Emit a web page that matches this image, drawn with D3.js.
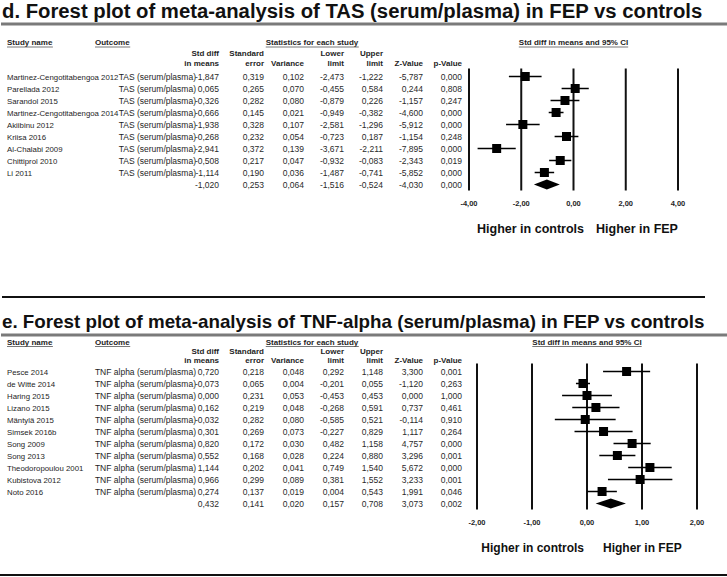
<!DOCTYPE html>
<html><head><meta charset="utf-8">
<script src="https://cdn.jsdelivr.net/npm/d3@7"></script>
<style>
html,body{margin:0;padding:0;background:#fff;}
svg{display:block;font-family:"Liberation Sans",Arial,sans-serif;}
</style></head>
<body>
<svg id="chart" width="727" height="577"></svg>
<script>
// ---------- DATA ----------
const dTitle = "d. Forest plot of meta-analysis of TAS (serum/plasma) in FEP vs controls";
const dOutcome = "TAS (serum/plasma)";
const dStudies = ["Martinez-Cengotitabengoa 2012","Parellada 2012","Sarandol 2015","Martinez-Cengotitabengoa 2014","Akiibinu 2012","Kriisa 2016","Al-Chalabi 2009","Chittiprol 2010","Li 2011"];
const dSmd   = [-1.847, 0.065,-0.326,-0.666,-1.938,-0.268,-2.941,-0.508,-1.114];
const dSe    = [ 0.319, 0.265, 0.282, 0.145, 0.328, 0.232, 0.372, 0.217, 0.190];
const dVar   = [ 0.102, 0.070, 0.080, 0.021, 0.107, 0.054, 0.139, 0.047, 0.036];
const dLower = [-2.473,-0.455,-0.879,-0.949,-2.581,-0.723,-3.671,-0.932,-1.487];
const dUpper = [-1.222, 0.584, 0.226,-0.382,-1.296, 0.187,-2.211,-0.083,-0.741];
const dZ     = [-5.787, 0.244,-1.157,-4.600,-5.912,-1.154,-7.895,-2.343,-5.852];
const dP     = [ 0.000, 0.808, 0.247, 0.000, 0.000, 0.248, 0.000, 0.019, 0.000];
const dSummary = [-1.020, 0.253, 0.064,-1.516,-0.524,-4.030, 0.000];
const dTicks = [-4,-2,0,2,4];

const eTitle = "e. Forest plot of meta-analysis of TNF-alpha (serum/plasma) in FEP vs controls";
const eOutcome = "TNF alpha (serum/plasma)";
const eStudies = ["Pesce 2014","de Witte 2014","Haring 2015","Lizano 2015","Mäntylä 2015","Simsek 2016b","Song 2009","Song 2013","Theodoropoulou 2001","Kubistova 2012","Noto 2016"];
const eSmd   = [0.720,-0.073, 0.000, 0.162,-0.032, 0.301, 0.820, 0.552, 1.144, 0.966, 0.274];
const eSe    = [0.218, 0.065, 0.231, 0.219, 0.282, 0.269, 0.172, 0.168, 0.202, 0.299, 0.137];
const eVar   = [0.048, 0.004, 0.053, 0.048, 0.080, 0.073, 0.030, 0.028, 0.041, 0.089, 0.019];
const eLower = [0.292,-0.201,-0.453,-0.268,-0.585,-0.227, 0.482, 0.224, 0.749, 0.381, 0.004];
const eUpper = [1.148, 0.055, 0.453, 0.591, 0.521, 0.829, 1.158, 0.880, 1.540, 1.552, 0.543];
const eZ     = [3.300,-1.120, 0.000, 0.737,-0.114, 1.117, 4.757, 3.296, 5.672, 3.233, 1.991];
const eP     = [0.001, 0.263, 1.000, 0.461, 0.910, 0.264, 0.000, 0.001, 0.000, 0.001, 0.046];
const eSummary = [0.432, 0.141, 0.020, 0.157, 0.708, 3.073, 0.002];
const eTicks = [-2,-1,0,1,2];

const colHeads1 = ["Std diff","Standard","","Lower","Upper","",""];
const colHeads2 = ["in means","error","Variance","limit","limit","Z-Value","p-Value"];
const leftLabel = "Higher in controls";
const rightLabel = "Higher in FEP";
const ciLabel = "Std diff in means and 95%  CI";

// ---------- HELPERS ----------
const loc = d3.formatLocale({decimal:",", thousands:".", grouping:[3], currency:["",""], minus:"-"});
const f3 = loc.format(".3f");
const f2 = loc.format(".2f");
const svg = d3.select("#chart");
const TXT = "#1e1e1e";
const colX = [219,264,304,344,383,423,462];

function fitText(sel, target){
  const w = sel.node().getComputedTextLength();
  const fs = parseFloat(sel.attr("font-size"));
  sel.attr("font-size", (fs*target/w).toFixed(2));
}
function underline(g, sel, y){
  const bb = sel.node().getBBox();
  g.append("line").attr("x1",bb.x).attr("x2",bb.x+bb.width)
   .attr("y1",y).attr("y2",y).attr("stroke","#555").attr("stroke-width",0.8);
}
function boldText(g,x,y,txt,anchor){
  return g.append("text").attr("x",x).attr("y",y).attr("text-anchor",anchor||"start")
    .attr("font-size",8).attr("font-weight","bold").attr("fill",TXT).text(txt);
}

function section(cfg){
  const g = svg.append("g");
  const L = cfg.lay;
  const t = g.append("text").attr("x",2).attr("y",L.title).attr("font-size",18)
    .attr("font-weight","bold").attr("fill","#111").text(cfg.title);
  fitText(t, cfg.titleWidth);
  g.append("line").attr("x1",1).attr("x2",727).attr("y1",L.rule).attr("y2",L.rule)
    .attr("stroke","#7a7a7a").attr("stroke-width",3);

  const xs = d3.scaleLinear().domain(cfg.domain).range(cfg.range);
  const hy = L.head;
  underline(g, boldText(g,7,hy,"Study name"), hy+2);
  underline(g, boldText(g,95,hy,"Outcome"), hy+2);
  underline(g, boldText(g,312,hy,"Statistics for each study","middle"), hy+2);
  underline(g, boldText(g,(cfg.range[0]+cfg.range[1])/2,hy,ciLabel,"middle"), hy+2);

  colHeads1.forEach((h,i)=>{ if(h) boldText(g,colX[i],L.sub1,h,"end"); });
  colHeads2.forEach((h,i)=>{ boldText(g,colX[i],L.sub2,h,"end"); });

  const n = cfg.studies.length;
  const ys = d3.scaleLinear().domain([0,1]).range([L.row0,L.row0+12]);

  const rows = cfg.studies.map((s,i)=>({name:s, vals:[cfg.smd[i],cfg.se[i],cfg.v[i],cfg.lo[i],cfg.up[i],cfg.z[i],cfg.p[i]], i}));
  rows.forEach(r=>{
    const y = ys(r.i)+3;
    g.append("text").attr("x",7).attr("y",y).attr("font-size",7.8).attr("fill",TXT).text(r.name);
    r.vals.forEach((v,j)=>{
      g.append("text").attr("x",colX[j]).attr("y",y).attr("text-anchor","end").attr("font-size",8.5).attr("fill","#2a2a2a").text(f3(v));
    });
    g.append("text").attr("x",196).attr("y",y).attr("text-anchor","end").attr("font-size",8.5).attr("fill",TXT).text(cfg.outcome);
  });
  const ySum = ys(n);
  cfg.summary.forEach((v,j)=>{
    g.append("text").attr("x",colX[j]).attr("y",ySum+3).attr("text-anchor","end").attr("font-size",8.5).attr("fill","#2a2a2a").text(f3(v));
  });

  cfg.ticks.forEach(tk=>{
    g.append("line").attr("x1",xs(tk)).attr("x2",xs(tk)).attr("y1",L.row0-8).attr("y2",ySum+6)
      .attr("stroke","#111").attr("stroke-width",2);
    g.append("text").attr("x",xs(tk)).attr("y",ySum+21.5).attr("text-anchor","middle")
      .attr("font-size",7.5).attr("font-weight","bold").attr("fill",TXT).text(f2(tk));
  });
  rows.forEach(r=>{
    const y = ys(r.i);
    g.append("line").attr("x1",xs(cfg.lo[r.i])).attr("x2",xs(cfg.up[r.i])).attr("y1",y).attr("y2",y)
      .attr("stroke","#000").attr("stroke-width",1.5);
    const sz = 9;
    g.append("rect").attr("x",xs(cfg.smd[r.i])-sz/2).attr("y",y-sz/2).attr("width",sz).attr("height",sz).attr("fill","#000");
  });
  const dm = cfg.summary;
  g.append("path").attr("d",`M${xs(dm[3])},${ySum} L${xs(dm[0])},${ySum-5} L${xs(dm[4])},${ySum} L${xs(dm[0])},${ySum+5} Z`).attr("fill","#000");

  const ly = ySum+48;
  g.append("text").attr("x",cfg.leftEnd).attr("y",ly).attr("text-anchor","end").attr("font-size",cfg.labFs).attr("font-weight","bold").attr("fill","#111").text(leftLabel);
  g.append("text").attr("x",cfg.rightStart).attr("y",ly).attr("font-size",cfg.labFs).attr("font-weight","bold").attr("fill","#111").text(rightLabel);
}

section({lay:{title:18, rule:24, head:45, sub1:56, sub2:66, row0:76.5},
  title:dTitle, titleWidth:701, outcome:dOutcome,
  studies:dStudies, smd:dSmd, se:dSe, v:dVar, lo:dLower, up:dUpper, z:dZ, p:dP, summary:dSummary,
  ticks:dTicks, domain:[-4,4], range:[469,678], leftEnd:584, rightStart:596, labFs:12.5});

svg.append("line").attr("x1",2).attr("x2",705).attr("y1",297).attr("y2",297).attr("stroke","#111").attr("stroke-width",2);

section({lay:{title:328, rule:335, head:344.5, sub1:354, sub2:363, row0:371.5},
  title:eTitle, titleWidth:703, outcome:eOutcome,
  studies:eStudies, smd:eSmd, se:eSe, v:eVar, lo:eLower, up:eUpper, z:eZ, p:eP, summary:eSummary,
  ticks:eTicks, domain:[-2,2], range:[477,697], leftEnd:584, rightStart:603, labFs:12});

svg.append("line").attr("x1",0).attr("x2",727).attr("y1",575).attr("y2",575).attr("stroke","#111").attr("stroke-width",2);
</script>
</body></html>
